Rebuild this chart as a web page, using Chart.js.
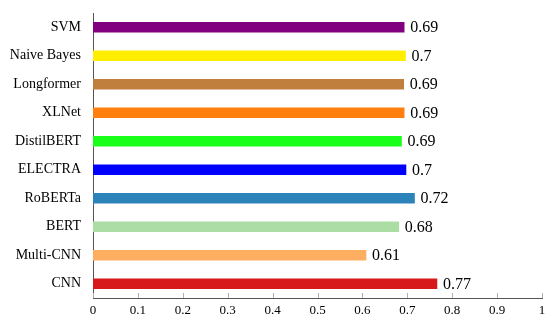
<!DOCTYPE html>
<html>
<head>
<meta charset="utf-8">
<script src="https://cdn.jsdelivr.net/npm/chart.js@4/dist/chart.umd.min.js"></script>
<style>
  html, body { margin: 0; padding: 0; background: #fff; }
  #wrap { width: 550px; height: 322px; }
</style>
</head>
<body>
<div id="wrap"><canvas id="c" width="550" height="322"></canvas></div>
<script>
// Categories, top to bottom
const categories = ['SVM', 'Naive Bayes', 'Longformer', 'XLNet', 'DistilBERT', 'ELECTRA', 'RoBERTa', 'BERT', 'Multi-CNN', 'CNN'];
// Bar values
const scores = [0.693, 0.696, 0.692, 0.693, 0.687, 0.697, 0.716, 0.681, 0.608, 0.766];
// Value labels printed next to bars
const scoreLabels = ['0.69', '0.7', '0.69', '0.69', '0.69', '0.7', '0.72', '0.68', '0.61', '0.77'];
// Bar colours
const barColors = ['#800080', '#ffee00', '#c17f3e', '#ff7f0e', '#1aff1a', '#0000ff', '#2b83ba', '#abdda4', '#fdae61', '#d7191c'];
// X tick labels
const xTickLabels = ['0', '0.1', '0.2', '0.3', '0.4', '0.5', '0.6', '0.7', '0.8', '0.9', '1'];

const SERIF = '"Liberation Serif", "DejaVu Serif", serif';

const innerTicks = {
  id: 'innerTicks',
  afterDraw(chart) {
    const ctx = chart.ctx;
    const xs = chart.scales.x;
    const bottom = chart.chartArea.bottom;
    ctx.save();
    ctx.strokeStyle = '#b0b0b0';
    ctx.lineWidth = 1;
    xs.ticks.forEach(t => {
      const px = Math.round(xs.getPixelForValue(t.value)) + 0.5;
      ctx.beginPath();
      ctx.moveTo(px, bottom);
      ctx.lineTo(px, bottom - 5);
      ctx.stroke();
    });
    ctx.restore();
  }
};

const valueLabels = {
  id: 'valueLabels',
  afterDatasetsDraw(chart) {
    const ctx = chart.ctx;
    const meta = chart.getDatasetMeta(0);
    ctx.save();
    ctx.font = '16px ' + SERIF;
    ctx.fillStyle = '#000';
    ctx.textAlign = 'left';
    ctx.textBaseline = 'middle';
    meta.data.forEach((bar, i) => {
      ctx.fillText(scoreLabels[i], bar.x + 6, bar.y + 1);
    });
    ctx.restore();
  }
};

new Chart(document.getElementById('c'), {
  type: 'bar',
  data: {
    labels: categories,
    datasets: [{
      data: scores,
      backgroundColor: barColors,
      borderWidth: 0,
      barThickness: 10
    }]
  },
  options: {
    indexAxis: 'y',
    responsive: false,
    animation: false,
    devicePixelRatio: 1,
    layout: { padding: { top: 13, right: 8, left: 0, bottom: 0 } },
    plugins: { legend: { display: false }, tooltip: { enabled: false } },
    scales: {
      x: {
        min: 0, max: 1,
        grid: { display: false, drawTicks: false, tickLength: 0 },
        border: { display: true, color: '#555', width: 1 },
        ticks: {
          stepSize: 0.1,
          color: '#000',
          font: { family: SERIF, size: 13 },
          padding: 5,
          maxRotation: 0,
          autoSkip: false,
          callback: (v, i) => xTickLabels[i]
        },
        afterFit(scale) {
          scale.height = 24;
          scale.paddingLeft = 0; scale.paddingRight = 0;
        }
      },
      y: {
        grid: { display: false, drawTicks: false, tickLength: 0 },
        border: { display: true, color: '#555', width: 1 },
        ticks: {
          color: '#000',
          font: { family: SERIF, size: 14 },
          padding: 12
        },
        afterFit(scale) {
          scale.width = 93;
          scale.paddingTop = 0; scale.paddingBottom = 0;
        }
      }
    }
  },
  plugins: [innerTicks, valueLabels]
});
</script>
</body>
</html>
